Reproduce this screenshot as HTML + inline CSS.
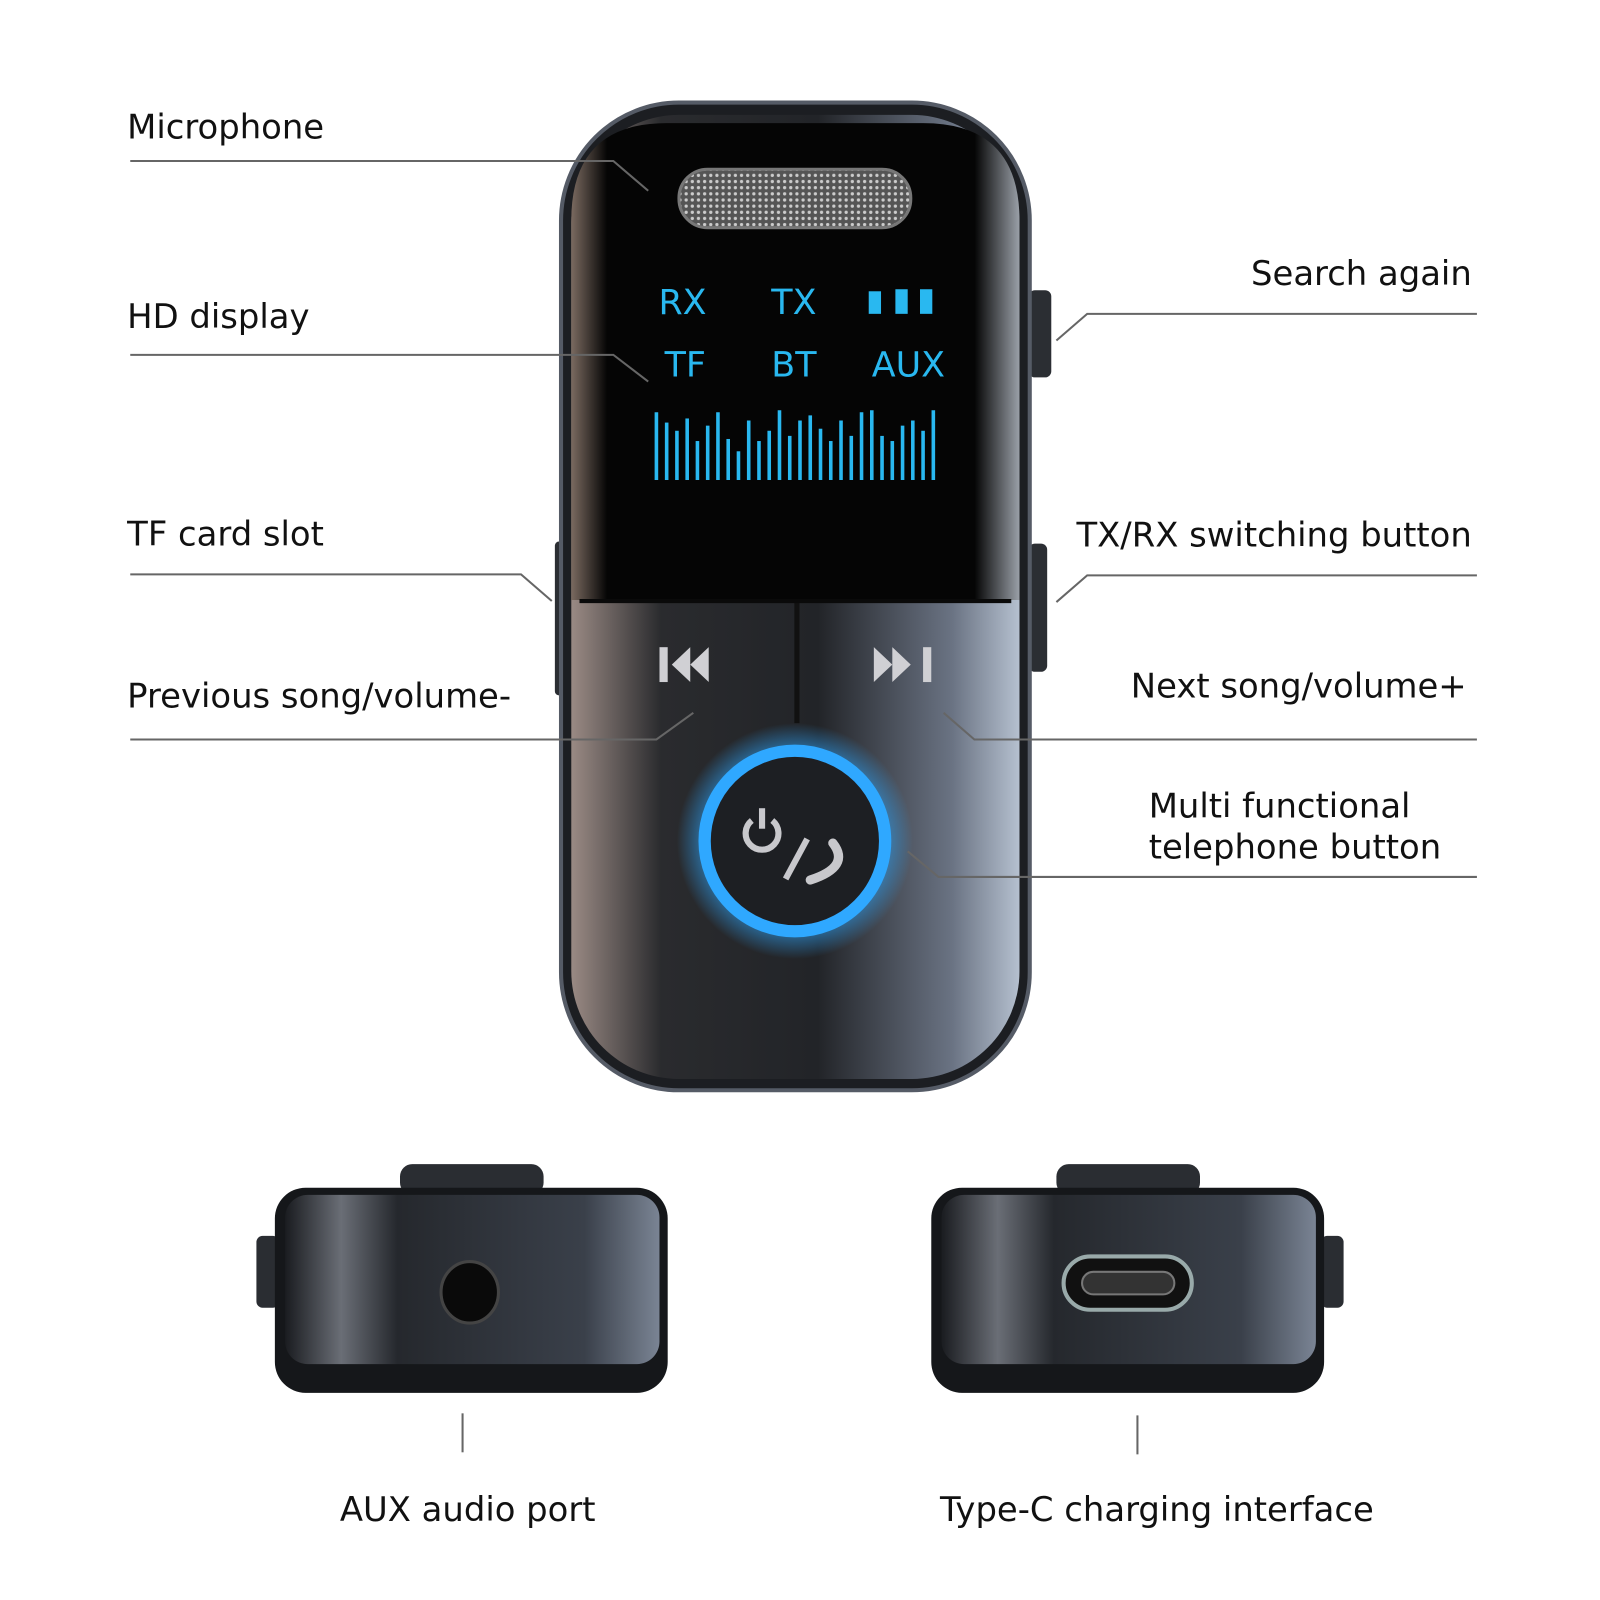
<!DOCTYPE html>
<html><head><meta charset="utf-8"><style>
html,body{margin:0;padding:0;background:#fff;width:1600px;height:1600px;overflow:hidden}
svg{display:block}
text{font-family:"DejaVu Sans","Liberation Sans",sans-serif;fill:#111}
</style></head><body>
<svg width="1600" height="1600" viewBox="0 0 1560 1560" xmlns="http://www.w3.org/2000/svg">
<defs>
<linearGradient id="bodyg" x1="0" x2="1" y1="0" y2="0">
<stop offset="0" stop-color="#6b5f5a"/><stop offset="0.12" stop-color="#2a2a2c"/><stop offset="0.55" stop-color="#1a1b1e"/><stop offset="0.85" stop-color="#5a6270"/><stop offset="1" stop-color="#a8b4c4"/></linearGradient>
<linearGradient id="lowg" x1="0" x2="1"><stop offset="0" stop-color="#9a8a84"/><stop offset="0.2" stop-color="#2a2b2e"/><stop offset="0.55" stop-color="#222428"/><stop offset="0.85" stop-color="#6a7383"/><stop offset="1" stop-color="#b5c0cf"/></linearGradient>
<linearGradient id="scr" x1="0" x2="1"><stop offset="0" stop-color="#7a6a60"/><stop offset="0.08" stop-color="#050505"/><stop offset="0.9" stop-color="#050505"/><stop offset="1" stop-color="#9aa0a8"/></linearGradient>
<radialGradient id="glow"><stop offset="0.75" stop-color="#2fa8ff" stop-opacity="0.6"/><stop offset="1" stop-color="#2fa8ff" stop-opacity="0"/></radialGradient>
<linearGradient id="podg" x1="0" x2="1"><stop offset="0" stop-color="#1a1c20"/><stop offset="0.15" stop-color="#6a6e76"/><stop offset="0.3" stop-color="#25282d"/><stop offset="0.8" stop-color="#3a404a"/><stop offset="1" stop-color="#7a8494"/></linearGradient>
<pattern id="mesh" width="6" height="6" patternUnits="userSpaceOnUse"><rect width="6" height="6" fill="#555"/><circle cx="3" cy="3" r="1.6" fill="#ccc"/></pattern>
</defs>

<!-- main device -->
<rect x="1003" y="283" width="22" height="85" rx="6" fill="#2b2e33"/>
<rect x="1003" y="530" width="18" height="125" rx="6" fill="#2b2e33"/>
<rect x="541" y="528" width="10" height="150" rx="4" fill="#2b2e33"/>
<rect x="547" y="100" width="457" height="963" rx="115" fill="#1c1e22" stroke="#555b66" stroke-width="4"/>
<rect x="557" y="112" width="437" height="940" rx="105" fill="url(#lowg)"/>
<path d="M557 585 V215 Q557 120 650 120 H900 Q994 120 994 215 V585 Z" fill="url(#scr)"/>
<rect x="662" y="165" width="226" height="57" rx="28" fill="url(#mesh)" stroke="#777" stroke-width="3"/>
<line x1="777" y1="585" x2="777" y2="705" stroke="#111" stroke-width="5"/>
<line x1="565" y1="586" x2="986" y2="586" stroke="#0a0a0a" stroke-width="4"/>
<g font-family="Liberation Sans,sans-serif" font-size="34" fill="#29b8f0">
<text x="642" y="306" style="fill:#29b8f0">RX</text><text x="752" y="306" style="fill:#29b8f0">TX</text>
<text x="648" y="367" style="fill:#29b8f0">TF</text><text x="752" y="367" style="fill:#29b8f0">BT</text><text x="850" y="367" style="fill:#29b8f0">AUX</text>
</g>
<rect x="847" y="284" width="12" height="22" fill="#29b8f0"/><rect x="873" y="282" width="12" height="24" fill="#29b8f0"/><rect x="897" y="282" width="12" height="24" fill="#29b8f0"/>
<g stroke="#29b8f0" stroke-width="3.5">
<line x1="640" y1="402" x2="640" y2="468"/><line x1="650" y1="412" x2="650" y2="468"/><line x1="660" y1="420" x2="660" y2="468"/><line x1="670" y1="408" x2="670" y2="468"/><line x1="680" y1="430" x2="680" y2="468"/><line x1="690" y1="415" x2="690" y2="468"/><line x1="700" y1="402" x2="700" y2="468"/><line x1="710" y1="428" x2="710" y2="468"/><line x1="720" y1="440" x2="720" y2="468"/><line x1="730" y1="410" x2="730" y2="468"/><line x1="740" y1="430" x2="740" y2="468"/><line x1="750" y1="420" x2="750" y2="468"/><line x1="760" y1="400" x2="760" y2="468"/><line x1="770" y1="425" x2="770" y2="468"/><line x1="780" y1="410" x2="780" y2="468"/><line x1="790" y1="405" x2="790" y2="468"/><line x1="800" y1="418" x2="800" y2="468"/><line x1="810" y1="430" x2="810" y2="468"/><line x1="820" y1="410" x2="820" y2="468"/><line x1="830" y1="425" x2="830" y2="468"/><line x1="840" y1="402" x2="840" y2="468"/><line x1="850" y1="400" x2="850" y2="468"/><line x1="860" y1="425" x2="860" y2="468"/><line x1="870" y1="430" x2="870" y2="468"/><line x1="880" y1="415" x2="880" y2="468"/><line x1="890" y1="410" x2="890" y2="468"/><line x1="900" y1="420" x2="900" y2="468"/><line x1="910" y1="400" x2="910" y2="468"/>
</g>
<!-- prev/next -->
<g fill="#d0d0d4">
<rect x="643" y="631" width="8" height="34"/><polygon points="673,631 673,665 655,648"/><polygon points="691,631 691,665 673,648"/>
<polygon points="852,631 852,665 870,648"/><polygon points="870,631 870,665 888,648"/><rect x="900" y="631" width="8" height="34"/>
</g>
<circle cx="775" cy="820" r="115" fill="url(#glow)"/>
<circle cx="775" cy="820" r="88" fill="#1d1f23" stroke="#2fa8ff" stroke-width="12"/>
<path d="M733 800 A16 16 0 1 0 753 800" fill="none" stroke="#c8c8cc" stroke-width="6"/>
<line x1="743" y1="788" x2="743" y2="808" stroke="#c8c8cc" stroke-width="6"/>
<line x1="787" y1="818" x2="766" y2="857" stroke="#c8c8cc" stroke-width="6"/>
<path d="M812 822 Q830 845 790 858" fill="none" stroke="#c8c8cc" stroke-width="9" stroke-linecap="round"/>

<!-- leader lines -->
<g stroke="#666" stroke-width="2" fill="none">
<polyline points="127,157 598,157 632,186"/>
<polyline points="127,346 598,346 632,372"/>
<polyline points="127,560 508,560 538,586"/>
<polyline points="127,721 640,721 676,695"/>
<polyline points="1440,306 1060,306 1030,332"/>
<polyline points="1440,561 1060,561 1030,587"/>
<polyline points="1440,721 950,721 920,695"/>
<polyline points="1440,855 915,855 885,830"/>
<line x1="451" y1="1378" x2="451" y2="1416"/>
<line x1="1109" y1="1380" x2="1109" y2="1418"/>
</g>

<g font-size="33">
<text x="124" y="135">Microphone</text>
<text x="124" y="320">HD display</text>
<text x="124" y="532">TF card slot</text>
<text x="124" y="690">Previous song/volume-</text>
<text x="1435" y="278" text-anchor="end">Search again</text>
<text x="1435" y="533" text-anchor="end">TX/RX switching button</text>
<text x="1430" y="680" text-anchor="end">Next song/volume+</text>
<text x="1120" y="797">Multi functional</text>
<text x="1120" y="837">telephone button</text>
<text x="456" y="1483" text-anchor="middle">AUX audio port</text>
<text x="1128" y="1483" text-anchor="middle">Type-C charging interface</text>
</g>

<!-- bottom pods -->
<g>
<rect x="390" y="1135" width="140" height="30" rx="12" fill="#2a2d32"/>
<rect x="250" y="1205" width="22" height="70" rx="6" fill="#2a2d32"/>
<rect x="268" y="1158" width="383" height="200" rx="30" fill="#15171a"/>
<rect x="278" y="1165" width="365" height="165" rx="22" fill="url(#podg)"/>
<ellipse cx="458" cy="1260" rx="28" ry="30" fill="#0a0a0a" stroke="#444" stroke-width="3"/>
</g>
<g>
<rect x="1030" y="1135" width="140" height="30" rx="12" fill="#2a2d32"/>
<rect x="1288" y="1205" width="22" height="70" rx="6" fill="#2a2d32"/>
<rect x="908" y="1158" width="383" height="200" rx="30" fill="#15171a"/>
<rect x="918" y="1165" width="365" height="165" rx="22" fill="url(#podg)"/>
<rect x="1037" y="1225" width="125" height="52" rx="26" fill="#111" stroke="#9aa" stroke-width="4"/>
<rect x="1055" y="1240" width="90" height="22" rx="11" fill="#333" stroke="#777" stroke-width="2"/>
</g>
</svg>
</body></html>
